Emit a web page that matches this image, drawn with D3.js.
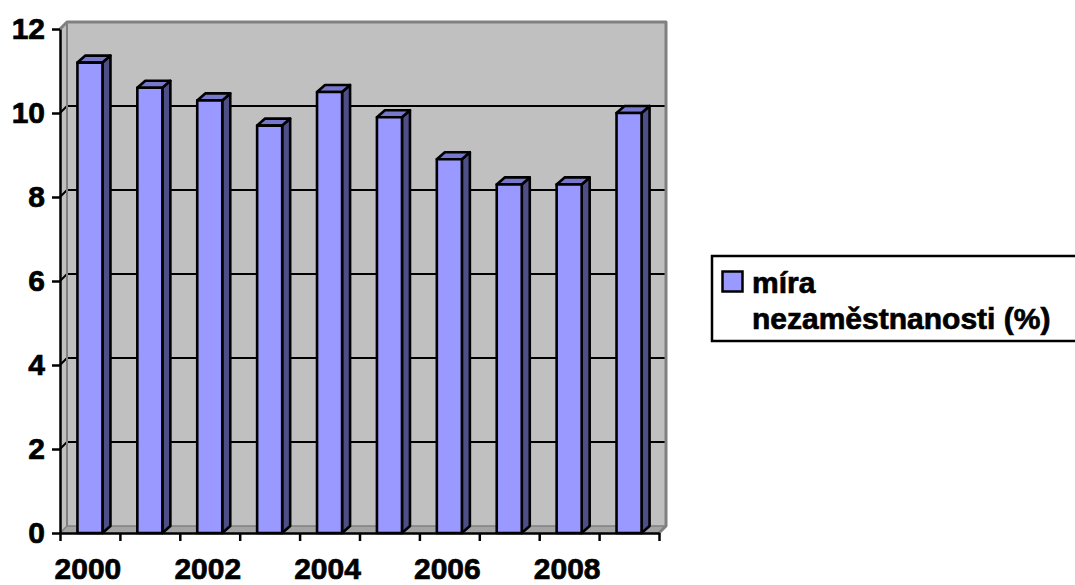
<!DOCTYPE html>
<html>
<head>
<meta charset="utf-8">
<script src="https://cdn.jsdelivr.net/npm/d3@7"></script>
<style>
  html, body { margin: 0; padding: 0; background: #ffffff; }
  svg { display: block; }
  text { font-family: "Liberation Sans", Arial, sans-serif; font-weight: bold; fill: #000; stroke: #000; stroke-width: 0.7px; }
</style>
</head>
<body>
<svg id="chart" width="1075" height="585"></svg>
<script>
// Unemployment rate by year
const years = ["2000", "2001", "2002", "2003", "2004", "2005", "2006", "2007", "2008", "2009"];
const rates = [11.2, 10.6, 10.3, 9.7, 10.5, 9.9, 8.9, 8.3, 8.3, 10.0];
const yTickValues = [0, 2, 4, 6, 8, 10, 12];
const xLabelYears = ["2000", "2002", "2004", "2006", "2008"];
const legendLines = ["míra", "nezaměstnanosti (%)"];

const svg = d3.select("#chart");

// Front plane of the plot and 3D depth of the walls
const plotLeft = 60, plotRight = 659, plotBase = 533, plotTop = 29;
const wallDX = 7, wallDY = 7;
const barDX = 8, barDY = 7;

const x = d3.scaleBand().domain(years).range([plotLeft, plotRight]).padding(0);
const y = d3.scaleLinear().domain([0, 12]).range([plotBase, plotTop]);
const barW = x.bandwidth() * 0.418;

const wallColor = "#c0c0c0", wallEdge = "#808080";

// Left side wall
svg.append("polygon")
  .attr("points", [[plotLeft, y(0)], [plotLeft, y(12)], [plotLeft + wallDX, y(12) - wallDY], [plotLeft + wallDX, y(0) - wallDY]].join(" "))
  .attr("fill", wallColor);

// Back wall
svg.append("rect")
  .attr("x", plotLeft + wallDX).attr("y", y(12) - wallDY)
  .attr("width", plotRight - plotLeft).attr("height", y(0) - y(12))
  .attr("fill", wallColor);

// Floor
svg.append("polygon")
  .attr("points", [[plotLeft, y(0)], [plotLeft + wallDX, y(0) - wallDY], [plotRight + wallDX, y(0) - wallDY], [plotRight, y(0)]].join(" "))
  .attr("fill", "#a4a4a4");
svg.append("line")
  .attr("x1", plotLeft + wallDX).attr("x2", plotRight + wallDX)
  .attr("y1", y(0) - wallDY).attr("y2", y(0) - wallDY)
  .attr("stroke", wallEdge).attr("stroke-width", 1.5);

// Gridlines on the back wall and side wall
const grid = yTickValues.filter(v => v > 0 && v < 12);
svg.append("g").selectAll("path").data(grid).join("path")
  .attr("d", v => `M${plotLeft},${y(v)}L${plotLeft + wallDX},${y(v) - wallDY}L${plotRight + wallDX},${y(v) - wallDY}`)
  .attr("fill", "none").attr("stroke", "#000").attr("stroke-width", 2);

// Wall outline
svg.append("path")
  .attr("d", `M${plotLeft},${y(12)}L${plotLeft + wallDX},${y(12) - wallDY}L${plotRight + wallDX},${y(12) - wallDY}L${plotRight + wallDX},${y(0) - wallDY}L${plotRight},${y(0)}`)
  .attr("fill", "none").attr("stroke", wallEdge).attr("stroke-width", 3).attr("stroke-linejoin", "round");
svg.append("line")
  .attr("x1", plotLeft + wallDX).attr("x2", plotLeft + wallDX)
  .attr("y1", y(12) - wallDY).attr("y2", y(0) - wallDY)
  .attr("stroke", wallEdge).attr("stroke-width", 2);
svg.append("line")
  .attr("x1", plotLeft).attr("x2", plotLeft + wallDX)
  .attr("y1", y(0)).attr("y2", y(0) - wallDY)
  .attr("stroke", wallEdge).attr("stroke-width", 1.5);

// Y axis
const yAxis = svg.append("g")
  .attr("transform", `translate(${plotLeft},0)`)
  .call(d3.axisLeft(y).tickValues(yTickValues).tickSize(8).tickSizeOuter(0).tickPadding(7));
yAxis.attr("font-family", null).attr("font-size", null);
yAxis.select(".domain").attr("stroke", "#000").attr("stroke-width", 2.5);
yAxis.selectAll(".tick line").attr("stroke", "#000").attr("stroke-width", 2.5);
yAxis.selectAll(".tick text")
  .style("font-size", "30px").style("font-weight", "bold")
  .attr("fill", "#000");

// Bars drawn as 3D columns: side, top and front faces
const barData = years.map((yr, i) => ({ yr, v: rates[i] }));
const bars = svg.append("g").selectAll("g").data(barData).join("g");
function face(sel, fill, pts) {
  sel.append("polygon")
    .attr("points", d => pts(d).join(" "))
    .attr("fill", fill)
    .attr("stroke", "#000").attr("stroke-width", 2.6)
    .attr("stroke-linejoin", "round");
}
const bx0 = d => x(d.yr) + (x.bandwidth() - barW) / 2;
const bx1 = d => bx0(d) + barW;
face(bars, "#4f4f88", d => [[bx1(d), y(0)], [bx1(d), y(d.v)], [bx1(d) + barDX, y(d.v) - barDY], [bx1(d) + barDX, y(0) - barDY]]);
face(bars, "#7777cc", d => [[bx0(d), y(d.v)], [bx0(d) + barDX, y(d.v) - barDY], [bx1(d) + barDX, y(d.v) - barDY], [bx1(d), y(d.v)]]);
face(bars, "#9999ff", d => [[bx0(d), y(0)], [bx0(d), y(d.v)], [bx1(d), y(d.v)], [bx1(d), y(0)]]);

// X axis: tick marks at category boundaries, labels for every second year
const xEdges = d3.scaleLinear().domain([0, years.length]).range([plotLeft, plotRight]);
const xAxis = svg.append("g")
  .attr("transform", `translate(0,${plotBase})`)
  .call(d3.axisBottom(xEdges).tickValues(d3.range(years.length + 1)).tickSize(8).tickSizeOuter(0).tickFormat(""));
xAxis.select(".domain").attr("stroke", "#000").attr("stroke-width", 2.5);
xAxis.selectAll(".tick line").attr("stroke", "#000").attr("stroke-width", 2.5);

svg.append("g").selectAll("text").data(xLabelYears).join("text")
  .attr("x", d => x(d) + x.bandwidth() / 2 - 2)
  .attr("y", 579)
  .attr("text-anchor", "middle")
  .style("font-size", "30px")
  .text(d => d);

// Legend
const lg = svg.append("g");
lg.append("rect")
  .attr("x", 712).attr("y", 256).attr("width", 400).attr("height", 85)
  .attr("fill", "#fff").attr("stroke", "#000").attr("stroke-width", 2.5);
lg.append("rect")
  .attr("x", 722.5).attr("y", 271.5).attr("width", 20).attr("height", 20)
  .attr("fill", "#9999ff").attr("stroke", "#000").attr("stroke-width", 2.5);
lg.selectAll("text.lg").data(legendLines).join("text")
  .attr("class", "lg")
  .attr("x", 752)
  .attr("y", (d, i) => 293 + i * 36)
  .style("font-size", "30px")
  .text(d => d);
</script>
</body>
</html>
